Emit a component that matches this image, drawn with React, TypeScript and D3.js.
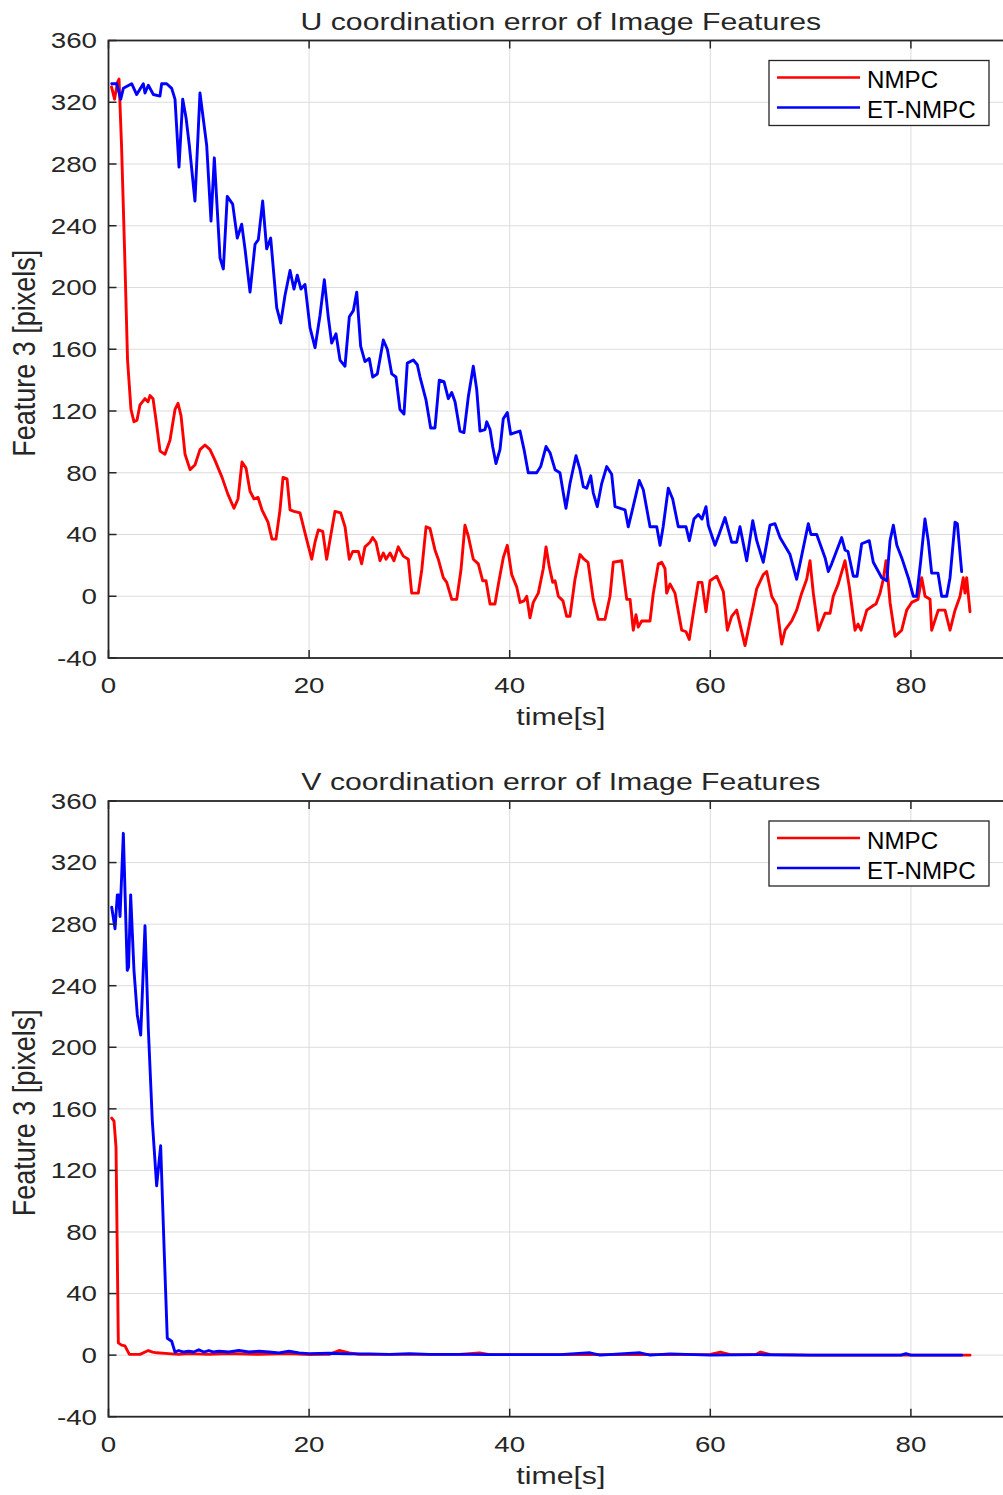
import React from "react";
import * as d3 from "d3";

// time [s] / pixel error pairs
const uNmpc: [number, number][] = [
  [0.3, 330], [0.6, 322], [0.9, 333], [1.05, 335], [1.3, 292], [1.6, 225], [1.9, 153], [2.24, 121], [2.54, 113], [2.84, 114],
  [3.14, 124], [3.64, 128], [3.94, 126], [4.14, 130], [4.44, 128], [4.74, 114], [5.14, 94], [5.63, 92], [6.13, 101], [6.63, 121],
  [6.93, 125], [7.23, 117], [7.63, 92], [8.13, 82], [8.62, 85], [9.12, 95], [9.62, 98], [10.12, 95], [10.62, 88], [11.32, 77],
  [11.91, 66], [12.51, 57], [12.91, 63], [13.31, 87], [13.71, 83], [14.11, 68], [14.51, 63], [14.91, 64], [15.3, 56], [15.9, 48],
  [16.3, 37], [16.7, 37], [17.1, 56], [17.4, 77], [17.8, 76], [18.1, 56], [18.5, 55], [19.09, 54], [19.59, 41], [20.26, 24],
  [20.59, 35], [20.92, 43], [21.36, 42], [21.75, 24], [22.15, 39], [22.58, 55], [23.15, 54], [23.58, 45], [24.01, 24], [24.35, 29],
  [24.91, 29], [25.24, 21], [25.57, 32], [26.07, 35], [26.34, 38], [26.67, 35], [27.07, 23], [27.4, 28], [27.67, 24], [28.07, 28],
  [28.46, 23], [28.89, 32], [29.39, 26], [29.89, 24], [30.23, 2], [30.89, 2], [31.23, 17], [31.66, 45], [32.05, 44], [32.55, 30],
  [32.88, 24], [33.38, 12], [33.72, 9], [34.22, -2], [34.72, -2], [35.14, 17], [35.54, 46], [35.87, 39], [36.37, 24], [36.87, 21],
  [37.31, 10], [37.64, 10], [38.04, -5], [38.53, -5], [38.96, 11], [39.36, 25], [39.76, 33], [40.2, 14], [40.7, 6], [41.03, -4],
  [41.43, -3], [41.7, 0], [42.02, -14], [42.35, -4], [42.85, 2], [43.35, 18], [43.62, 32], [43.95, 19], [44.29, 9], [44.52, 10],
  [44.85, 0], [45.31, -3], [45.68, -13], [46.01, -13], [46.51, 11], [47.01, 27], [47.41, 24], [47.81, 22], [48.33, -2], [48.83, -15],
  [49.5, -15], [50.0, 0], [50.33, 22], [51.17, 23], [51.67, -2], [52.0, -2], [52.32, -22], [52.59, -12], [52.82, -20], [53.16, -16],
  [53.99, -16], [54.32, 2], [54.82, 21], [55.15, 22], [55.48, 18], [55.65, 2], [55.98, 8], [56.48, 2], [57.15, -22], [57.58, -23],
  [57.9, -28], [58.3, -11], [58.8, 9], [59.17, 9], [59.57, -10], [59.97, 10], [60.64, 13], [61.3, 3], [61.7, -22], [62.13, -13],
  [62.63, -9], [63.46, -32], [64.13, -11], [64.63, 5], [65.28, 14], [65.62, 16], [66.12, 0], [66.62, -6], [67.12, -31], [67.45, -22],
  [68.12, -16], [68.61, -9], [69.11, 2], [69.61, 11], [69.94, 23], [70.27, 2], [70.77, -22], [71.44, -11], [71.94, -11], [72.26, 0],
  [72.76, 8], [73.43, 23], [73.86, 6], [74.43, -22], [74.73, -18], [75.03, -22], [75.6, -9], [76.25, -6], [76.52, -5], [76.92, 2],
  [77.25, 11], [77.52, 23], [77.72, 11], [77.92, -4], [78.42, -26], [79.08, -22], [79.58, -9], [80.08, -4], [80.71, -2], [81.08, 12],
  [81.41, 0], [81.91, -2], [82.07, -22], [82.73, -9], [83.4, -9], [83.9, -22], [84.4, -9], [84.9, 0], [85.22, 12], [85.39, 2],
  [85.56, 12], [85.89, -10],
];

const uEtNmpc: [number, number][] = [
  [0.32, 332], [0.82, 332], [1.22, 322], [1.48, 329], [2.31, 332], [2.81, 325], [3.47, 332], [3.64, 326], [3.97, 331], [4.47, 325],
  [5.13, 324], [5.3, 332], [5.8, 332], [6.3, 329], [6.63, 322], [7.03, 278], [7.4, 322], [7.73, 310], [8.06, 292], [8.62, 256],
  [9.12, 326], [9.79, 292], [10.22, 243], [10.55, 284], [11.12, 219], [11.45, 212], [11.84, 259], [12.38, 254], [12.84, 232], [13.28, 241],
  [13.61, 225], [14.11, 197], [14.61, 228], [14.94, 231], [15.37, 256], [15.77, 225], [16.17, 232], [16.77, 187], [17.17, 177], [17.6, 195],
  [18.1, 211], [18.49, 199], [18.82, 208], [19.19, 199], [19.59, 202], [20.09, 174], [20.59, 161], [21.09, 182], [21.52, 205], [21.91, 181],
  [22.25, 164], [22.68, 170], [23.08, 153], [23.58, 149], [24.01, 181], [24.41, 185], [24.75, 197], [25.14, 162], [25.57, 152], [26.0, 154],
  [26.34, 142], [26.8, 144], [27.4, 166], [27.8, 160], [28.24, 144], [28.66, 142], [29.06, 121], [29.46, 118], [29.79, 151], [30.39, 153],
  [30.79, 150], [31.06, 142], [31.66, 127], [32.12, 109], [32.55, 109], [32.98, 140], [33.45, 139], [33.88, 128], [34.22, 132], [34.55, 126],
  [35.04, 107], [35.44, 106], [35.87, 129], [36.37, 149], [36.71, 134], [37.04, 107], [37.54, 108], [37.71, 113], [38.04, 108], [38.3, 97],
  [38.63, 86], [39.03, 95], [39.36, 115], [39.76, 119], [40.1, 105], [40.53, 106], [41.03, 107], [41.43, 95], [41.85, 80], [42.69, 80],
  [43.09, 84], [43.62, 97], [44.02, 93], [44.52, 82], [45.01, 80], [45.34, 67], [45.61, 57], [46.01, 73], [46.61, 91], [47.01, 82],
  [47.34, 71], [47.68, 70], [48.08, 78], [48.33, 67], [48.73, 58], [49.17, 73], [49.67, 84], [50.17, 79], [50.5, 58], [51.5, 56],
  [51.82, 45], [52.16, 54], [52.92, 75], [53.32, 69], [53.99, 45], [54.66, 45], [54.99, 33], [55.3, 45], [55.81, 70], [56.25, 63],
  [56.81, 45], [57.58, 45], [57.91, 36], [58.37, 50], [58.8, 53], [59.17, 50], [59.57, 58], [59.8, 46], [60.47, 33], [60.87, 40],
  [61.47, 51], [62.13, 35], [62.63, 35], [62.96, 45], [63.63, 23], [64.23, 49], [64.63, 36], [65.28, 22], [65.95, 46], [66.45, 47],
  [66.95, 38], [67.95, 27], [68.61, 11], [68.94, 21], [69.77, 47], [70.04, 40], [70.61, 40], [71.44, 25], [71.77, 16], [72.1, 21],
  [73.1, 38], [73.43, 30], [73.73, 29], [74.26, 13], [74.63, 13], [75.09, 34], [75.85, 36], [76.25, 22], [77.09, 12], [77.59, 10],
  [77.92, 36], [78.25, 46], [78.6, 33], [79.08, 25], [79.74, 12], [80.24, 0], [80.58, 0], [80.98, 23], [81.4, 50], [81.73, 36],
  [82.07, 15], [82.7, 15], [83.07, 0], [83.57, 0], [83.9, 12], [84.4, 48], [84.63, 47], [85.06, 16],
];

const vNmpc: [number, number][] = [
  [0.32, 154], [0.55, 152], [0.75, 135], [0.98, 8], [1.31, 6.5], [1.64, 6], [2.08, 0.5], [3.14, 0.5], [3.97, 3], [4.4, 2],
  [4.8, 1.5], [6, 1], [7, 0.5], [8, 1], [10, 0.5], [12, 1], [15, 0.5], [18, 1], [20, 0.3], [22, 0.5],
  [23, 3], [24, 1.5], [25, 0.5], [30, 0.5], [35, 0.5], [37, 1.5], [38, 0.3], [45, 0.3], [50, 0.3], [55, 0.3],
  [60, 0.5], [61, 2], [62, 0.3], [64.5, 0.3], [65, 2], [66, 0.3], [70, 0], [85.9, 0],
];

const vEtNmpc: [number, number][] = [
  [0.32, 291], [0.65, 277], [0.88, 299], [1.0, 299], [1.15, 285], [1.48, 339], [1.87, 250], [2.0, 252], [2.21, 299], [2.54, 250],
  [2.87, 221], [3.21, 208], [3.64, 279], [3.97, 212], [4.37, 152], [4.8, 110], [5.2, 136], [5.53, 72], [5.86, 11], [6.3, 9],
  [6.63, 2], [7.0, 3], [7.5, 2], [8, 2.5], [8.5, 2], [9, 3.5], [9.5, 2], [10, 3], [10.5, 2], [11, 2.5],
  [12, 2], [13, 3], [14, 2], [15, 2.5], [16, 2], [17, 1.5], [18, 2.5], [19, 1.5], [20, 1], [22, 1.2],
  [24, 0.8], [26, 0.8], [28, 0.5], [30, 1], [32, 0.5], [35, 0.5], [38, 0.3], [40, 0.3], [45, 0.3], [48, 1.5],
  [49, 0], [53, 1.5], [54, 0], [56, 0.8], [60, 0], [65, 0.3], [70, 0], [79, 0], [79.5, 1], [80, 0], [85.07, 0],
];

const xTicks = [0, 20, 40, 60, 80];
const yTicks = [-40, 0, 40, 80, 120, 160, 200, 240, 280, 320, 360];
const seriesNames = ["NMPC", "ET-NMPC"];
const seriesColors = ["#ff0000", "#0000ff"];

const FONT = "'Liberation Sans', Arial, Helvetica, sans-serif";
const INK = "#262626";
const SX = 1.26; // the figure is stretched horizontally

const x = d3.scaleLinear().domain([0, 90]).range([108.5, 1011.2]);

function Panel({ top, bottom, title, nmpc, et }: {
  top: number; bottom: number; title: string;
  nmpc: [number, number][]; et: [number, number][];
}) {
  const y = d3.scaleLinear().domain([-40, 360]).range([bottom, top]);
  const line = d3.line<[number, number]>().x((d) => x(d[0])).y((d) => y(d[1]));
  const [x0, x1] = x.range();
  const clipId = `clip-${top}`;
  const legX = 769, legY = top + 20;

  return (
    <g>
      <defs>
        <clipPath id={clipId}>
          <rect x={x0} y={top} width={x1 - x0} height={bottom - top} />
        </clipPath>
      </defs>
      {/* grid */}
      {xTicks.slice(1).map((t) => (
        <line key={"gx" + t} x1={x(t)} x2={x(t)} y1={top} y2={bottom} stroke="#dcdcdc" strokeWidth={1} />
      ))}
      {yTicks.slice(1, -1).map((t) => (
        <line key={"gy" + t} x1={x0} x2={x1} y1={y(t)} y2={y(t)} stroke="#dcdcdc" strokeWidth={1} />
      ))}
      {/* data */}
      <g clipPath={`url(#${clipId})`} fill="none" strokeWidth={2.9} strokeLinejoin="round" strokeLinecap="round">
        <path d={line(nmpc) || ""} stroke={seriesColors[0]} />
        <path d={line(et) || ""} stroke={seriesColors[1]} />
      </g>
      {/* box + ticks */}
      <rect x={x0} y={top} width={x1 - x0} height={bottom - top} fill="none" stroke={INK} strokeWidth={1.8} />
      {xTicks.map((t) => (
        <g key={"tx" + t} stroke={INK} strokeWidth={1.5}>
          <line x1={x(t)} x2={x(t)} y1={bottom} y2={bottom - 8} />
          <line x1={x(t)} x2={x(t)} y1={top} y2={top + 8} />
        </g>
      ))}
      {yTicks.map((t) => (
        <g key={"ty" + t} stroke={INK} strokeWidth={1.5}>
          <line x1={x0} x2={x0 + 8} y1={y(t)} y2={y(t)} />
          <line x1={x1} x2={x1 - 8} y1={y(t)} y2={y(t)} />
        </g>
      ))}
      {/* tick labels */}
      <g fontFamily={FONT} fontSize={22} fill={INK}>
        {xTicks.map((t) => (
          <text key={"lx" + t} textAnchor="middle" transform={`translate(${x(t)},${bottom + 35}) scale(${SX},1)`}>{t}</text>
        ))}
        {yTicks.map((t) => (
          <text key={"ly" + t} textAnchor="end" transform={`translate(97,${y(t) + 7.8}) scale(${SX},1)`}>{t}</text>
        ))}
      </g>
      {/* title and labels */}
      <text fontFamily={FONT} fontSize={24} fill={INK} textAnchor="middle"
        transform={`translate(${(x0 + x1) / 2 + 1},${top - 11}) scale(${SX},1)`}>{title}</text>
      <text fontFamily={FONT} fontSize={24} fill={INK} textAnchor="middle"
        transform={`translate(${(x0 + x1) / 2 + 1},${bottom + 67}) scale(${SX},1)`}>time[s]</text>
      <text fontFamily={FONT} fontSize={27} fill={INK} textAnchor="middle"
        transform={`translate(35,${(top + bottom) / 2 + 4}) scale(1.15,1) rotate(-90)`}>Feature 3 [pixels]</text>
      {/* legend */}
      <rect x={legX} y={legY} width={220} height={65} fill="#fff" stroke={INK} strokeWidth={1.3} />
      {seriesNames.map((name, i) => (
        <g key={name}>
          <line x1={777} x2={860} y1={legY + 17 + i * 30} y2={legY + 17 + i * 30} stroke={seriesColors[i]} strokeWidth={2.6} />
          <text fontFamily={FONT} fontSize={23} fill="#000"
            transform={`translate(867,${legY + 27.5 + i * 30}) scale(1.05,1)`}>{name}</text>
        </g>
      ))}
    </g>
  );
}

export default function App() {
  return (
    <div style={{ position: "absolute", left: 0, top: 0 }}>
      <svg width={1003} height={1495} style={{ display: "block", background: "#fff" }}>
        <rect width={1003} height={1495} fill="#fff" />
        <Panel top={40.5} bottom={658} title="U coordination error of Image Features" nmpc={uNmpc} et={uEtNmpc} />
        <Panel top={801} bottom={1416.7} title="V coordination error of Image Features" nmpc={vNmpc} et={vEtNmpc} />
      </svg>
    </div>
  );
}
